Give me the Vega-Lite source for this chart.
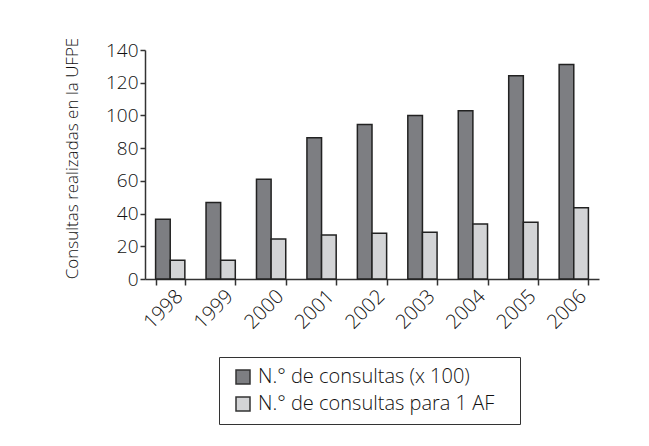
{
  "$schema": "https://vega.github.io/schema/vega-lite/v6.json",
  "width": 454,
  "height": 229,
  "autosize": {"type": "none"},
  "padding": {"left": 145, "top": 50, "right": 50, "bottom": 167},
  "background": "white",
  "data": {
    "values": [
      {"year": "1998", "serie": "N.° de consultas (x 100)", "value": 36.5},
      {"year": "1998", "serie": "N.° de consultas para 1 AF", "value": 11.4},
      {"year": "1999", "serie": "N.° de consultas (x 100)", "value": 46.7},
      {"year": "1999", "serie": "N.° de consultas para 1 AF", "value": 11.4},
      {"year": "2000", "serie": "N.° de consultas (x 100)", "value": 61},
      {"year": "2000", "serie": "N.° de consultas para 1 AF", "value": 24.5},
      {"year": "2001", "serie": "N.° de consultas (x 100)", "value": 86.3},
      {"year": "2001", "serie": "N.° de consultas para 1 AF", "value": 26.9},
      {"year": "2002", "serie": "N.° de consultas (x 100)", "value": 94.5},
      {"year": "2002", "serie": "N.° de consultas para 1 AF", "value": 28},
      {"year": "2003", "serie": "N.° de consultas (x 100)", "value": 100},
      {"year": "2003", "serie": "N.° de consultas para 1 AF", "value": 28.6},
      {"year": "2004", "serie": "N.° de consultas (x 100)", "value": 102.9},
      {"year": "2004", "serie": "N.° de consultas para 1 AF", "value": 33.7},
      {"year": "2005", "serie": "N.° de consultas (x 100)", "value": 124.3},
      {"year": "2005", "serie": "N.° de consultas para 1 AF", "value": 34.7},
      {"year": "2006", "serie": "N.° de consultas (x 100)", "value": 131.2},
      {"year": "2006", "serie": "N.° de consultas para 1 AF", "value": 43.5}
    ]
  },
  "mark": {"type": "bar", "stroke": "#222222", "strokeWidth": 1.5},
  "encoding": {
    "x": {
      "field": "year",
      "type": "nominal",
      "scale": {"paddingInner": 0.42, "paddingOuter": 0.21},
      "axis": {
        "title": null,
        "labelAngle": -45,
        "labelAlign": "right",
        "labelBaseline": "middle",
        "tickBand": "extent",
        "tickSize": 6,
        "labelPadding": 8,
        "labelOffset": 9,
        "labelFontSize": 20
      }
    },
    "xOffset": {
      "field": "serie",
      "type": "nominal",
      "sort": ["N.° de consultas (x 100)", "N.° de consultas para 1 AF"]
    },
    "y": {
      "field": "value",
      "type": "quantitative",
      "scale": {"domain": [0, 140]},
      "axis": {
        "title": "Consultas realizadas en la UFPE",
        "values": [0, 20, 40, 60, 80, 100, 120, 140],
        "grid": false,
        "tickSize": 5,
        "labelPadding": 2,
        "titlePadding": 24,
        "titleY": 108
      }
    },
    "color": {
      "field": "serie",
      "type": "nominal",
      "scale": {
        "domain": ["N.° de consultas (x 100)", "N.° de consultas para 1 AF"],
        "range": ["#7d7e82", "#d3d4d6"]
      },
      "legend": {
        "orient": "none",
        "legendX": 74,
        "legendY": 307,
        "direction": "vertical",
        "title": " ",
        "titleOrient": "right",
        "titlePadding": 16,
        "strokeColor": "#333333",
        "padding": 10,
        "symbolOffset": 4,
        "symbolType": "square",
        "symbolSize": 196,
        "symbolStrokeColor": "#333333",
        "symbolStrokeWidth": 1.5,
        "symbolOpacity": 1,
        "labelFontSize": 20,
        "labelFont": "Open Sans",
        "labelFontWeight": 300,
        "labelColor": "#111111",
        "labelOffset": 5,
        "rowPadding": 7,
        "labelLimit": 400
      }
    }
  },
  "config": {
    "view": {"stroke": null},
    "axis": {
      "domainColor": "#333333",
      "domainWidth": 1.5,
      "tickColor": "#333333",
      "tickWidth": 1.5,
      "labelFont": "Open Sans",
      "labelFontWeight": 300,
      "labelFontSize": 19,
      "labelColor": "#111111",
      "titleFont": "Open Sans",
      "titleFontWeight": 300,
      "titleFontSize": 17,
      "titleColor": "#111111"
    }
  }
}
